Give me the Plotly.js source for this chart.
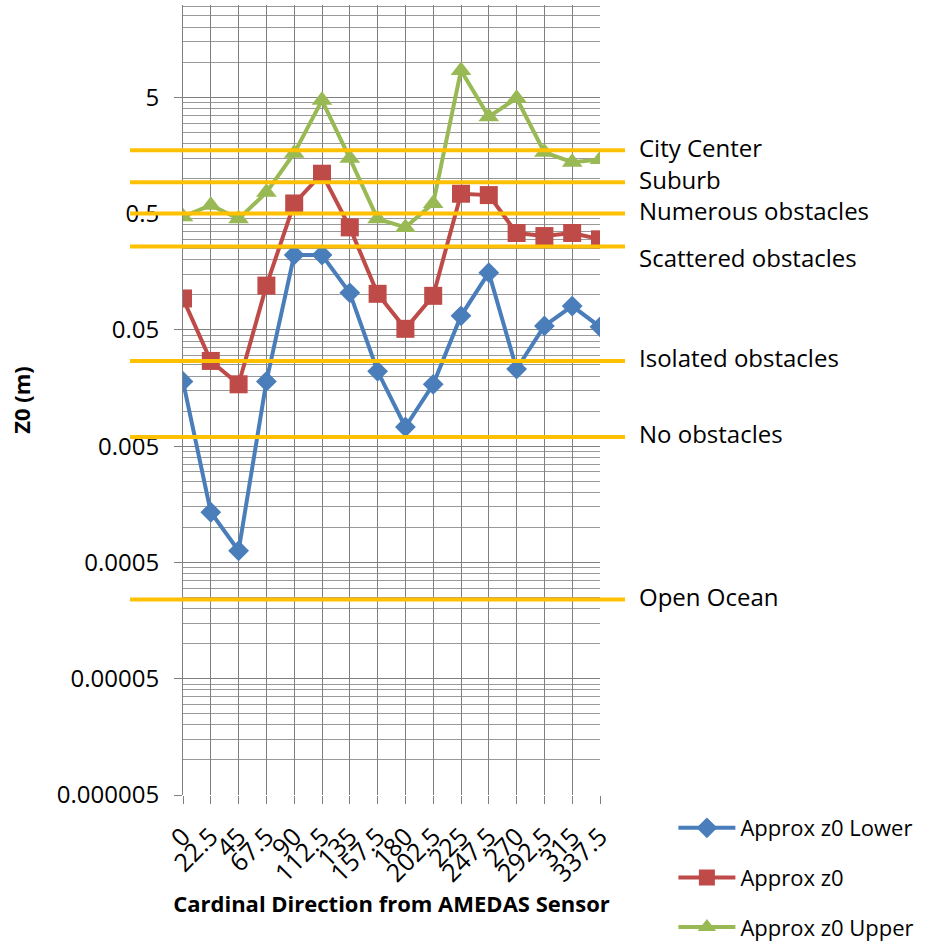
<!DOCTYPE html>
<html>
<head>
<meta charset="utf-8">
<script src="https://cdn.plot.ly/plotly-3.0.1.min.js"></script>
<style>html,body{margin:0;padding:0;background:#fff;}#chart{width:925px;height:945px;}</style>
</head>
<body>
<div id="chart"></div>
<script>
// ---- data ----
const directions = ["0","22.5","45","67.5","90","112.5","135","157.5","180","202.5","225","247.5","270","292.5","315","337.5"];
const z0Lower = [0.018,0.00135,0.00063,0.018,0.22,0.22,0.104,0.022,0.0073,0.017,0.066,0.155,0.023,0.054,0.08,0.053];
const z0Mid   = [0.093,0.027,0.017,0.12,0.61,1.1,0.38,0.102,0.051,0.098,0.74,0.72,0.34,0.32,0.34,0.30];
const z0Upper = [0.47,0.59,0.45,0.76,1.65,4.7,1.49,0.45,0.38,0.61,8.5,3.4,4.9,1.68,1.38,1.46];
const refNames  = ["City Center","Suburb","Numerous obstacles","Scattered obstacles","Isolated obstacles","No obstacles","Open Ocean"];
const refValues = [1.75,0.93,0.5,0.26,0.027,0.006,0.00024];
const yTickVals = [0.000005,0.00005,0.0005,0.005,0.05,0.5,5];
const yTickText = ["0.000005","0.00005","0.0005","0.005","0.05","0.5","5"];

// ---- styling ----
const FONT = "Open Sans, Noto Sans, sans-serif";
const GRID = "#808080";
const minorVals = [];
yTickVals.concat([50]).forEach(function(d){ for (let k = 2; k <= 9; k++) minorVals.push(d * k); });

const traces = [
  {name:"Approx z0 Lower", y:z0Lower, color:"#4a7ebb", symbol:"diamond", size:16},
  {name:"Approx z0", y:z0Mid, color:"#be4b48", symbol:"square", size:18},
  {name:"Approx z0 Upper", y:z0Upper, color:"#98b954", symbol:"triangle-up", size:18}
].map(function(s, i){
  return {
    type:"scatter", mode:"lines+markers", name:s.name, x:directions, y:s.y,
    legendgroup:"g"+i,
    line:{color:s.color, width:4},
    marker:{color:s.color, symbol:s.symbol, size:s.size, line:{width:0}}
  };
});

const shapes = refValues.map(function(v){
  return {type:"line", xref:"paper", yref:"y", x0:-0.127, x1:1.06, y0:v, y1:v,
          line:{color:"#ffc000", width:4}, layer:"above"};
});
const annotations = refNames.map(function(n, i){
  return {xref:"paper", yref:"y", x:1.089, y:Math.log10(refValues[i]), text:n, showarrow:false,
          xanchor:"left", yanchor:"middle", yshift:(n === "Scattered obstacles" ? -11 : 3),
          font:{family:FONT, size:24, color:"#000"}};
});

const layout = {
  width:925, height:945,
  margin:{l:183, r:325, t:5, b:150},
  paper_bgcolor:"#fff", plot_bgcolor:"#fff",
  showlegend:true,
  font:{family:FONT, size:24, color:"#000"},
  xaxis:{
    type:"category", range:[0,15], automargin:false,
    tickmode:"array", tickvals:directions, ticktext:directions,
    showgrid:true, gridcolor:GRID, gridwidth:1,
    ticks:"outside", ticklen:8, tickcolor:GRID, tickangle:-45, ticklabelstandoff:8,
    tickfont:{family:FONT, size:25, color:"#000"},
    showline:false, zeroline:false,
    title:{text:"<b>Cardinal Direction from AMEDAS Sensor</b>", font:{family:FONT, size:22, color:"#000"}, standoff:8}
  },
  yaxis:{
    type:"log", range:[Math.log10(0.000005), 1.492], automargin:false,
    tickmode:"array", tickvals:yTickVals, ticktext:yTickText,
    showgrid:true, gridcolor:GRID, gridwidth:1,
    ticks:"outside", ticklen:8, tickcolor:GRID, ticklabelstandoff:10,
    tickfont:{family:FONT, size:24, color:"#000"},
    minor:{tickmode:"array", tickvals:minorVals, showgrid:true, gridcolor:"#999999", gridwidth:1, ticks:""},
    showline:true, linecolor:GRID, linewidth:1, zeroline:false,
    title:{text:"<b>Z0 (m)</b>", font:{family:FONT, size:22, color:"#000"}, standoff:20}
  },
  legend:{
    xref:"container", yref:"container",
    x:0.728, y:0.146, xanchor:"left", yanchor:"top",
    traceorder:"grouped", tracegroupgap:18,
    font:{family:FONT, size:22, color:"#000"},
    bgcolor:"rgba(0,0,0,0)", itemwidth:57
  },
  shapes:shapes,
  annotations:annotations
};

Plotly.newPlot("chart", traces, layout, {displayModeBar:false, staticPlot:true});
</script>
</body>
</html>
